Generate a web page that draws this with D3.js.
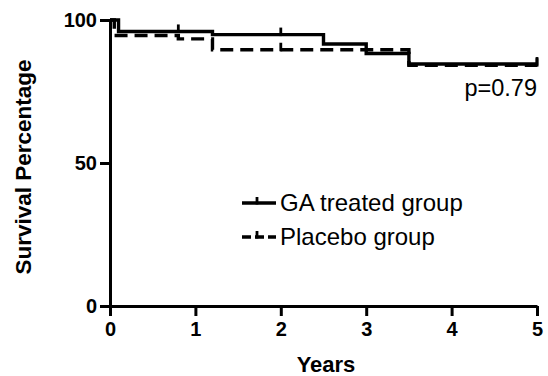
<!DOCTYPE html>
<html><head><meta charset="utf-8">
<script src="https://cdn.jsdelivr.net/npm/d3@7/dist/d3.min.js"></script>
<style>
html,body{margin:0;padding:0;background:#fff;}
svg{display:block;font-family:"Liberation Sans",Arial,Helvetica,sans-serif;}
</style></head>
<body>
<svg id="c" width="548" height="376"></svg>
<script>
// ---- data ----
const xTicks = [0, 1, 2, 3, 4, 5];
const yTicks = [0, 50, 100];
const gaTimes = [0, 0.1, 1.2, 2.5, 3.0, 3.5, 5.0];
const gaSurv  = [100, 96.0, 94.9, 91.6, 88.3, 84.6, 84.6];
const gaCensorTimes = [0.8, 2.0, 5.0];
const plTimes = [0, 0.05, 0.8, 1.2, 3.5, 5.0];
const plSurv  = [100, 94.6, 93.4, 89.6, 84.2, 84.2];
const plCensorTimes = [2.0, 5.0];
const seriesNames = ["GA treated group", "Placebo group"];
const pText = "p=0.79";

const svg = d3.select("#c");
const x = d3.scaleLinear().domain([0, 5]).range([110, 537]);
const y = d3.scaleLinear().domain([0, 100]).range([306, 20]);

function survAt(times, surv, t) {
  let v = surv[0];
  for (let i = 0; i < times.length; i++) if (times[i] <= t) v = surv[i];
  return v;
}

const line = d3.line().x(d => x(d[0])).y(d => y(d[1])).curve(d3.curveStepAfter);

const series = [
  {times: gaTimes, surv: gaSurv, cens: gaCensorTimes, dash: null},
  {times: plTimes, surv: plSurv, cens: plCensorTimes, dash: "13,7"}
];

series.slice().reverse().forEach(s => {
  const pts = s.times.map((t, i) => [t, s.surv[i]]);
  svg.append("path").attr("d", line(pts))
    .attr("fill", "none").attr("stroke", "#000").attr("stroke-width", 3.4)
    .attr("stroke-dasharray", s.dash);
  s.cens.forEach(t => {
    const v = survAt(s.times, s.surv, t);
    svg.append("line").attr("x1", x(t)).attr("x2", x(t))
      .attr("y1", y(v) - 7).attr("y2", y(v) + 1.5)
      .attr("stroke", "#000").attr("stroke-width", 2.8);
  });
});

// axes
const xAxis = svg.append("g").attr("transform", "translate(0,306)")
  .call(d3.axisBottom(x).tickValues(xTicks).tickFormat(d3.format("d")).tickSize(10).tickSizeOuter(0).tickPadding(6));
const yAxis = svg.append("g").attr("transform", "translate(110,0)")
  .call(d3.axisLeft(y).tickValues(yTicks).tickFormat(d3.format("d")).tickSize(10).tickSizeOuter(0).tickPadding(3));
[xAxis, yAxis].forEach(g => {
  g.select(".domain").attr("stroke", "#000").attr("stroke-width", 3);
  g.selectAll(".tick line").attr("stroke", "#000").attr("stroke-width", 3);
  g.selectAll(".tick text").attr("fill", "#000")
    .style("font-family", '"Liberation Sans",Arial,sans-serif')
    .style("font-size", "20px").style("font-weight", "bold");
});

// axis titles
svg.append("text").attr("x", 326).attr("y", 372).attr("text-anchor", "middle")
  .style("font-size", "22px").style("font-weight", "bold").text("Years");
svg.append("text").attr("transform", "translate(31,167) rotate(-90)").attr("text-anchor", "middle")
  .style("font-size", "22.5px").style("font-weight", "bold").text("Survival Percentage");

// p value
svg.append("text").attr("x", 537).attr("y", 96).attr("text-anchor", "end")
  .style("font-size", "23.5px").text(pText);

// legend
const lg = svg.append("g");
seriesNames.forEach((name, i) => {
  const yy = 203 + i * 34;
  lg.append("line").attr("x1", 242).attr("x2", 276).attr("y1", yy).attr("y2", yy)
    .attr("stroke", "#000").attr("stroke-width", 3.4)
    .attr("stroke-dasharray", i === 0 ? null : "9,4");
  lg.append("line").attr("x1", 257).attr("x2", 257).attr("y1", yy - 6).attr("y2", yy + 1.5)
    .attr("stroke", "#000").attr("stroke-width", 2.8);
  lg.append("text").attr("x", 280).attr("y", yy + 8)
    .style("font-size", "24px").text(name);
});
</script>
</body></html>
